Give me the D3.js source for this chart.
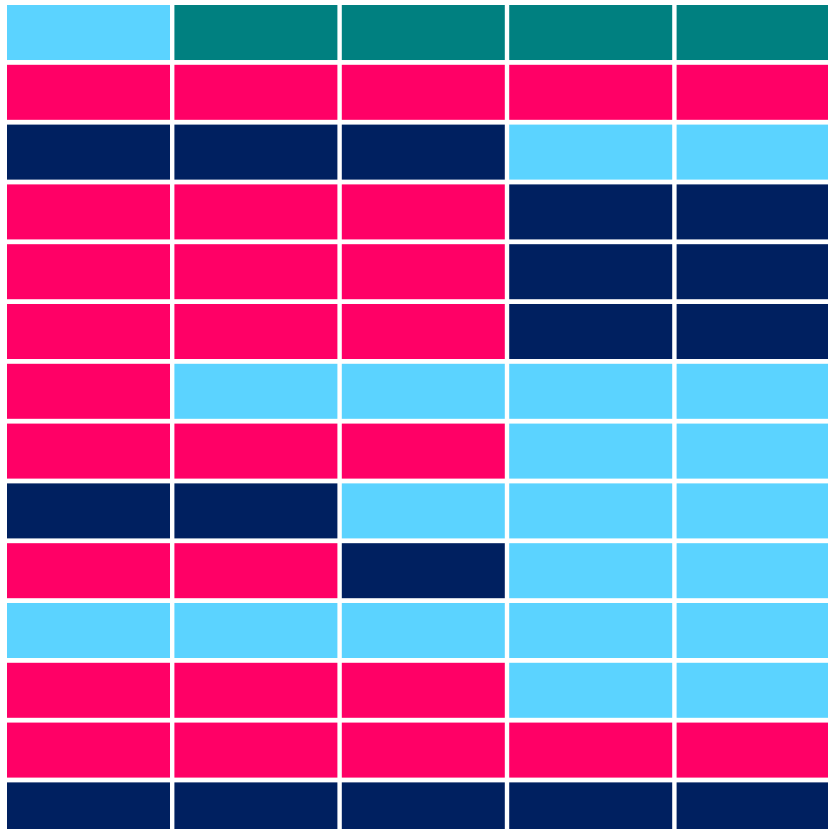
<!DOCTYPE html>
<html>
<head>
<meta charset="utf-8">
<script src="https://cdn.jsdelivr.net/npm/d3@7"></script>
<style>
  html, body { margin: 0; padding: 0; background: #fff; overflow: hidden; }
</style>
</head>
<body>
<svg id="grid"></svg>
<script>
// row and column keys
var rows = ["r1","r2","r3","r4","r5","r6","r7","r8","r9","r10","r11","r12","r13","r14"]
var cols = ["c1","c2","c3","c4","c5"]

// category for each cell, one string per row
var cellRows = [
    ["L","T","T","T","T"],
    ["P","P","P","P","P"],
    ["N","N","N","L","L"],
    ["P","P","P","N","N"],
    ["P","P","P","N","N"],
    ["P","P","P","N","N"],
    ["P","L","L","L","L"],
    ["P","P","P","L","L"],
    ["N","N","L","L","L"],
    ["P","P","N","L","L"],
    ["L","L","L","L","L"],
    ["P","P","P","L","L"],
    ["P","P","P","P","P"],
    ["N","N","N","N","N"]
]

var categories = ["L","T","P","N"]
var categoryColors = ["#5bd3ff","#008080","#ff0066","#002060"]

var dimensions = {
    width: 828,
    height: 829
}

var svg = d3.select("#grid")
    .attr("width", dimensions.width)
    .attr("height", dimensions.height)

var cells = []
cellRows.forEach(function(r, i) {
    r.forEach(function(v, j) {
        cells.push({row: rows[i], col: cols[j], cat: v})
    })
})

var xScale = d3.scaleBand()
    .domain(cols)
    .range([7, 839.6])
    .paddingInner(0.0263)
    .paddingOuter(0)

var yScale = d3.scaleBand()
    .domain(rows)
    .range([5, 837.4])
    .paddingInner(0.08)
    .paddingOuter(0)

var colorScale = d3.scaleOrdinal()
    .domain(categories)
    .range(categoryColors)

svg.selectAll("rect")
    .data(cells)
    .enter()
    .append("rect")
    .attr("x", d => xScale(d.col))
    .attr("y", d => yScale(d.row))
    .attr("width", xScale.bandwidth())
    .attr("height", yScale.bandwidth())
    .attr("fill", d => colorScale(d.cat))
</script>
</body>
</html>
